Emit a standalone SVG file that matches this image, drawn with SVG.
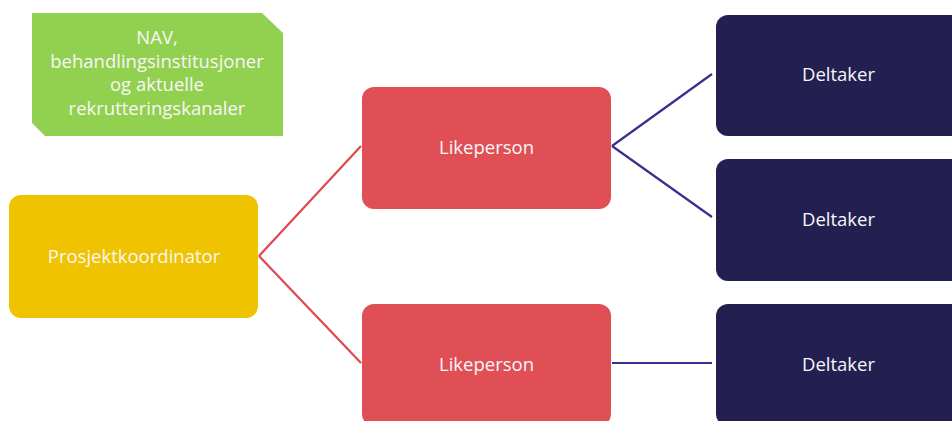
<svg xmlns="http://www.w3.org/2000/svg" width="952" height="421" viewBox="0 0 952 421">
  <style>
    .lbl { font-family: "Open Sans", "Noto Sans", sans-serif; font-size: 18.5px; fill: #F7F7F7; text-anchor: middle; }
    .red-link { stroke: #E0474F; stroke-width: 2.2; fill: none; }
    .navy-link { stroke: #3B2E8E; stroke-width: 2.2; fill: none; }
    .coord { fill: #F0C300; }
    .peer { fill: #E04F55; }
    .member { fill: #231F50; }
    .source { fill: #92D050; }
  </style>
  <rect width="952" height="421" fill="#FFFFFF"/>

  <g id="connectors">
    <line class="red-link" x1="259" y1="256" x2="361" y2="146"/>
    <line class="red-link" x1="259" y1="256" x2="361" y2="363"/>
    <line class="navy-link" x1="612" y1="146" x2="712" y2="74"/>
    <line class="navy-link" x1="612" y1="146" x2="712" y2="217"/>
    <line class="navy-link" x1="612" y1="363" x2="712" y2="363"/>
  </g>

  <g id="recruitment-channels">
    <path class="source" d="M32,13 H262 L283,33 V136 H45 L32,123 Z"/>
    <text class="lbl" x="157" y="44">NAV,</text>
    <text class="lbl" x="157" y="68">behandlingsinstitusjoner</text>
    <text class="lbl" x="157" y="91">og aktuelle</text>
    <text class="lbl" x="157" y="115">rekrutteringskanaler</text>
  </g>

  <g id="coordinator">
    <rect class="coord" x="9" y="195" width="249" height="123" rx="12"/>
    <text class="lbl" x="134" y="263">Prosjektkoordinator</text>
  </g>

  <g id="peer-1">
    <rect class="peer" x="362" y="87" width="249" height="122" rx="12"/>
    <text class="lbl" x="486.5" y="154">Likeperson</text>
  </g>

  <g id="peer-2">
    <rect class="peer" x="362" y="304" width="249" height="122" rx="12"/>
    <text class="lbl" x="486.5" y="371">Likeperson</text>
  </g>

  <g id="participant-1">
    <rect class="member" x="716" y="15" width="247" height="121" rx="12"/>
    <text class="lbl" x="838.5" y="81">Deltaker</text>
  </g>

  <g id="participant-2">
    <rect class="member" x="716" y="159" width="247" height="122" rx="12"/>
    <text class="lbl" x="838.5" y="226">Deltaker</text>
  </g>

  <g id="participant-3">
    <rect class="member" x="716" y="304" width="247" height="122" rx="12"/>
    <text class="lbl" x="838.5" y="371">Deltaker</text>
  </g>
</svg>
